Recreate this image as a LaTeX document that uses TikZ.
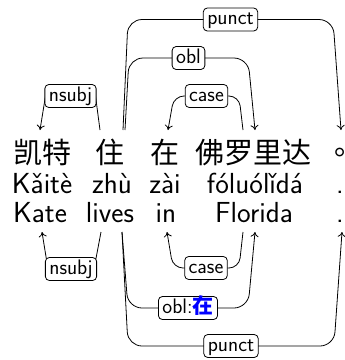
\documentclass[tikz,border=0pt]{standalone}
\usepackage{fontspec}
\newfontfamily\cjk{Noto Sans CJK SC}
\newfontfamily\cjktc{Noto Sans CJK TC}
\usetikzlibrary{arrows.meta}
\begin{document}
\begin{tikzpicture}[x=1pt,y=-1pt,
  word/.style={anchor=base, inner sep=0pt, font=\fontsize{29}{30}\selectfont\sffamily},
  zh/.style={anchor=base, inner sep=0pt, font=\fontsize{29}{30}\selectfont\cjk},
  lbl/.style={draw, sharp corners, rounded corners=4pt, fill=white, inner xsep=4pt, inner ysep=1.5pt,
    text height=15pt, text depth=5pt, font=\fontsize{21}{21}\selectfont\sffamily, line width=0.8pt},
  dep/.style={line width=0.8pt, rounded corners=14pt},
  arr/.style={-{To[length=5pt,width=8pt]}}]
\useasboundingbox (0,0) rectangle (345,360);
% words
\node[zh] (w1) at (42,163) {凯特};
\node[zh] (w2) at (110,163) {住};
\node[zh] (w3) at (165,163) {在};
\node[zh] (w4) at (254,163) {佛罗里达};
\node[zh, font=\fontsize{29}{30}\selectfont\cjktc] (w5) at (340,163) {。};
\node[word] (p1) at (42,193) {Kǎitè};
\node[word] (p2) at (112,193) {zhù};
\node[word] (p3) at (165,193) {zài};
\node[word] (p4) at (255,193) {fóluólǐdá};
\node[word] (p5) at (340,193) {.};
\node[word] (e1) at (40,222) {Kate};
\node[word] (e2) at (110,222) {lives};
\node[word] (e3) at (166,222) {in};
\node[word] (e4) at (254,222) {Florida};
\node[word] (e5) at (340,222) {.};
% attachment points
\coordinate (kate-t) at (40,130);
\coordinate (zhu-tL) at (100,130);
\coordinate (zhu-tR) at (123,130);
\coordinate (zhu-tR2) at (125,130);
\coordinate (zai-t) at (168,130);
\coordinate (fo-tL) at (243,130);
\coordinate (fo-tR) at (255,130);
\coordinate (dot-t) at (341,130);
\coordinate (kate-b) at (42,232);
\coordinate (zhu-bL) at (101,232);
\coordinate (zhu-bR) at (122,232);
\coordinate (zai-b) at (167,232);
\coordinate (fo-bL) at (243,232);
\coordinate (fo-bR) at (255,232);
\coordinate (dot-b) at (342,232);
% upper arcs
\draw[dep, sharp corners, arr] (zhu-tL) -- (95.5,96) -- node[lbl] (nsubjT) {nsubj} (45.5,96) -- (kate-t);
\draw[dep, rounded corners=10pt, arr] (fo-tL) -- (239,96) -- node[lbl] (caseT) {case} (174,96) -- (zai-t);
\draw[dep, arr] (zhu-tR2) -- (129,58) -- node[lbl] (oblT) {obl} (248,58) -- (fo-tR);
\draw[dep, arr] (zhu-tR) -- (128,19.5) -- node[lbl] (punctT) {punct} (333,19.5) -- (dot-t);
% lower arcs
\draw[dep, sharp corners, arr] (zhu-bL) -- (94,269) -- node[lbl] (nsubjB) {nsubj} (48,269) -- (kate-b);
\draw[dep, rounded corners=10pt, arr] (fo-bL) -- (239,268) -- node[lbl] (caseB) {case} (173,268) -- (zai-b);
\draw[dep, arr] (zhu-bR) -- (128,308) -- node[lbl] (oblB) {obl:\textcolor{blue}{\cjk\bfseries 在}} (248,308) -- (fo-bR);
\draw[dep, arr] (zhu-bR) -- (128,346) -- node[lbl] (punctB) {punct} (334,346) -- (dot-b);
\end{tikzpicture}
\end{document}
